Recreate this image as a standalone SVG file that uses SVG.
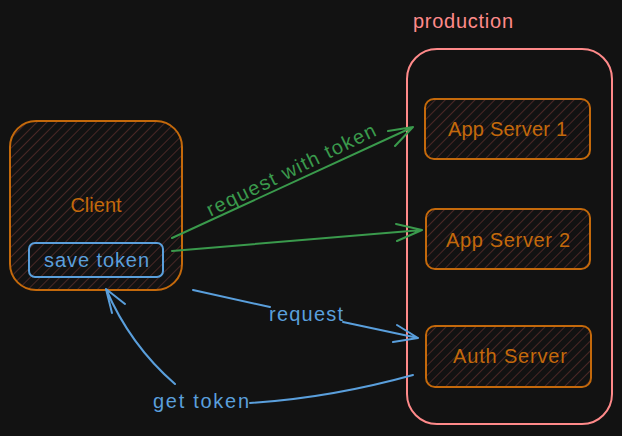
<svg xmlns="http://www.w3.org/2000/svg" width="622" height="436" viewBox="0 0 622 436">
<defs>
<pattern id="hatch" width="7" height="7" patternUnits="userSpaceOnUse" patternTransform="rotate(45)">
<line x1="0" y1="0" x2="0" y2="7" stroke="#66322f" stroke-width="1.3"/>
</pattern>
<style>
.node{fill:url(#hatch);stroke:#c4690b;stroke-width:2}
.t{font-family:"Liberation Sans","Noto Sans",sans-serif;font-size:20px}
.o{fill:#c4690b}
.b{fill:#5a9fdc}
.g{fill:#3a9a4c}
.c{fill:#ff8a8a}
.lb{fill:none;stroke:#5a9fdc;stroke-width:2;stroke-linecap:round;stroke-linejoin:round}
.lg{fill:none;stroke:#3a9a4c;stroke-width:2;stroke-linecap:round;stroke-linejoin:round}
</style>
</defs>
<rect width="622" height="436" fill="#121212"/>
<g id="production">
<rect x="407" y="49" width="205" height="375" rx="30" fill="none" stroke="#ff8a8a" stroke-width="2"/>
<text class="t c" x="413" y="28" textLength="100">production</text>
</g>
<g id="client">
<rect class="node" x="10" y="121" width="172" height="169" rx="26"/>
<text class="t o" x="96" y="212" text-anchor="middle">Client</text>
</g>
<g id="save-token">
<rect x="29" y="243" width="134" height="34" rx="6" fill="none" stroke="#5a9fdc" stroke-width="2"/>
<text class="t b" x="44" y="267" textLength="105">save token</text>
</g>
<g id="app1">
<rect class="node" x="425" y="99" width="165" height="60" rx="9"/>
<text class="t o" x="448" y="136" textLength="119">App Server 1</text>
</g>
<g id="app2">
<rect class="node" x="426" y="209" width="164" height="60" rx="9"/>
<text class="t o" x="446" y="247" textLength="124">App Server 2</text>
</g>
<g id="auth">
<rect class="node" x="426" y="326" width="165" height="61" rx="9"/>
<text class="t o" x="453" y="363" textLength="114">Auth Server</text>
</g>
<g id="connectors">
<path class="lg" d="M172,238 L413,127 M388,131 L413,127 L395,146"/>
<text class="t g" transform="translate(294,176) rotate(-26)" text-anchor="middle" textLength="186">request with token</text>
<path class="lg" d="M172,251 L422,230 M396,224 L422,230 L397,241"/>
<path class="lb" d="M193,290 L270,307 M343,322 L418,338 M397,325 L418,338 L393,342"/>
<text class="t b" x="306" y="321" text-anchor="middle" textLength="74">request</text>
<path class="lb" d="M413,375 Q330,398 250,403 M175,384 Q130,345 106,289 M112,313 L106,289 L125,304"/>
<text class="t b" x="201" y="408" text-anchor="middle" textLength="96">get token</text>
</g>
</svg>
